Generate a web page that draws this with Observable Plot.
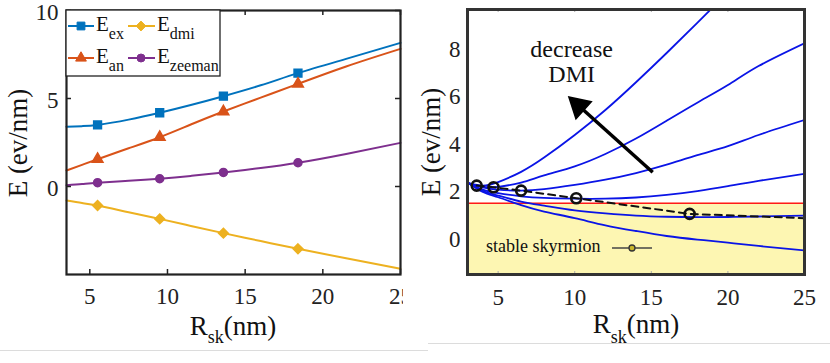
<!DOCTYPE html>
<html>
<head>
<meta charset="utf-8">
<script src="https://cdn.jsdelivr.net/npm/d3@7"></script>
<script src="https://cdn.jsdelivr.net/npm/@observablehq/plot@0.6"></script>
<style>
  html, body { margin: 0; padding: 0; background: white; }
  #wrap { position: relative; width: 830px; height: 363px; overflow: hidden; background: white; }
  #left { position: absolute; left: 0; top: 0; }
  #right { position: absolute; left: 415px; top: 0; }
  .hl { position: absolute; height: 1px; background: #dcdcdc; }
  svg text { font-family: "Liberation Serif", "Noto Serif", "DejaVu Serif", Tinos, "Nimbus Roman", "Nimbus Roman No9 L", FreeSerif, "Times New Roman", Times, serif !important; }
</style>
</head>
<body>
<div id="wrap">
  <div id="left"></div>
  <div id="right"></div>
  <div class="hl" style="left:0;top:350px;width:428px"></div>
  <div class="hl" style="left:428px;top:343px;width:402px"></div>
</div>
<script>
// ---------- Left panel data ----------
const rsk = [3.5, 4.5, 5.5, 7.5, 9.5, 11.5, 13.6, 16, 18.4, 21.5, 25];
const eEx = [3.4, 3.43, 3.5, 3.8, 4.19, 4.63, 5.13, 5.75, 6.44, 7.25, 8.16];
const eAn = [0.91, 1.23, 1.55, 2.17, 2.8, 3.52, 4.26, 5.05, 5.83, 6.82, 7.82];
const eZeeman = [0.07, 0.14, 0.22, 0.32, 0.44, 0.6, 0.8, 1.05, 1.35, 1.85, 2.48];
const eDmi = [-0.8, -0.94, -1.08, -1.46, -1.84, -2.24, -2.65, -3.1, -3.54, -4.08, -4.68];
const markerR = [5.5, 9.5, 13.6, 18.4];
const leftXTicks = [5, 10, 15, 20, 25];
const leftYTicks = [0, 5, 10];

// ---------- Right panel data ----------
const gridR = [3.1, 4, 5, 6.5, 8, 10, 12, 14, 16, 18, 20, 22, 25];
const dmiCurve1 = [2.36, 2.27, 2.42, 2.85, 3.45, 4.4, 5.45, 6.62, 7.85, 9.12, 10.4, NaN, NaN];
const dmiCurve2 = [2.36, 2.22, 2.22, 2.4, 2.7, 3.08, 3.6, 4.25, 5.0, 5.76, 6.5, 7.3, 8.26];
const dmiCurve3 = [2.36, 2.2, 2.1, 2.06, 2.12, 2.3, 2.52, 2.8, 3.15, 3.55, 3.93, 4.4, 5.03];
const dmiCurve4 = [2.36, 2.1, 1.95, 1.82, 1.75, 1.72, 1.72, 1.77, 1.88, 2.04, 2.25, 2.47, 2.77];
const dmiCurve5 = [2.36, 2.05, 1.85, 1.6, 1.43, 1.23, 1.1, 1.01, 0.96, 0.94, 0.95, 0.97, 1.01];
const dmiCurve6 = [2.36, 2.0, 1.78, 1.45, 1.18, 0.9, 0.6, 0.36, 0.15, 0.0, -0.13, -0.27, -0.46];
const minR = [3.6, 4.7, 6.5, 10.1, 17.5];
const minE = [2.27, 2.2, 2.06, 1.74, 1.08];
const trendR = [3.6, 4.7, 6.5, 10.1, 17.5, 25];
const trendE = [2.27, 2.2, 2.06, 1.74, 1.08, 0.9];
const stableLevel = 1.53;
const arrowR = [15.09, 10.26];
const arrowE = [2.83, 5.63];
const noteLines = ["decrease", "DMI"];
const noteR = [9.8, 9.8];
const noteE = [8.0, 6.95];
const rightXTicks = [5, 10, 15, 20, 25];
const rightYTicks = [0, 2, 4, 6, 8];

const FONT = "Liberation Serif, Noto Serif, DejaVu Serif, Tinos, Times New Roman, serif";
const C = {ex: "#0072BD", an: "#D95319", dmi: "#EDB120", zee: "#7E2F8E"};

// ---------- Left panel ----------
const series = [
  {key: "ex", vals: eEx, color: C.ex, symbol: "square", r: 4.4},
  {key: "dmi", vals: eDmi, color: C.dmi, symbol: "diamond2", r: 4.4},
  {key: "an", vals: eAn, color: C.an, symbol: "triangle", r: 4.0},
  {key: "zeeman", vals: eZeeman, color: C.zee, symbol: "circle", r: 4.0}
];
const rowsL = series.flatMap(s => rsk.map((x, i) => ({x, y: s.vals[i], key: s.key})));

const LW = 403, LH = 363, LML = 66, LMR = 3, LMT = 10, LMB = 89;
const LFW = 400 - LML, LFH = LH - LMT - LMB;

const leftMarks = [
  ...series.map(s => Plot.line(rowsL.filter(d => d.key === s.key), {x: "x", y: "y", stroke: s.color, strokeWidth: 2, curve: "natural"})),
  ...series.map(s => Plot.dot(rowsL.filter(d => d.key === s.key && markerR.includes(d.x)), {x: "x", y: "y", fill: s.color, stroke: s.color, symbol: s.symbol, r: s.r})),
  Plot.ruleX(leftXTicks, {x: d => d, insetTop: LFH - 5, stroke: "#222", strokeWidth: 1.5}),
  Plot.ruleX(leftXTicks, {x: d => d, insetBottom: LFH - 5, stroke: "#222", strokeWidth: 1.5}),
  Plot.ruleY(leftYTicks, {y: d => d, insetRight: LFW - 5, stroke: "#222", strokeWidth: 1.5}),
  Plot.ruleY(leftYTicks, {y: d => d, insetLeft: LFW - 5, stroke: "#222", strokeWidth: 1.5}),
  Plot.axisX({ticks: leftXTicks, tickSize: 0, tickPadding: 13, fontSize: 23, label: null, fill: "#222"}),
  Plot.axisY({ticks: leftYTicks, tickSize: 0, tickPadding: 8, fontSize: 23, label: null, fill: "#222", dy: 2}),
  Plot.frame({stroke: "#222", strokeWidth: 2.2})
];

const left = Plot.plot({
  width: LW, height: LH,
  marginLeft: LML, marginRight: LMR, marginTop: LMT, marginBottom: LMB,
  x: {domain: [3.5, 25]},
  y: {domain: [-5, 10]},
  style: {fontFamily: FONT, background: "white", overflow: "hidden"},
  marks: leftMarks
});
document.getElementById("left").appendChild(left);

// Legend & labels for the left panel
{
  const svg = d3.select(left);
  const g = svg.append("g").attr("font-family", FONT).attr("fill", "#111");
  g.append("rect").attr("x", 66).attr("y", 10).attr("width", 154).attr("height", 66)
    .attr("fill", "white").attr("stroke", "#222").attr("stroke-width", 1.3);
  const symMap = {square: d3.symbolSquare, diamond2: d3.symbolDiamond2, triangle: d3.symbolTriangle, circle: d3.symbolCircle};
  const pos = [
    {lx1: 68, lx2: 94, mx: 81, y: 26, tx: 96},
    {lx1: 128, lx2: 155, mx: 141, y: 26, tx: 157},
    {lx1: 68, lx2: 94, mx: 81, y: 58, tx: 96},
    {lx1: 128, lx2: 155, mx: 141, y: 58, tx: 157}
  ];
  series.forEach((s, i) => {
    const p = pos[i];
    g.append("line").attr("x1", p.lx1).attr("x2", p.lx2).attr("y1", p.y).attr("y2", p.y)
      .attr("stroke", s.color).attr("stroke-width", 2);
    g.append("path").attr("d", d3.symbol(symMap[s.symbol], Math.PI * s.r * s.r)())
      .attr("transform", `translate(${p.mx},${p.y})`).attr("fill", s.color).attr("stroke", s.color);
    const t = g.append("text").attr("x", p.tx).attr("y", p.y + 5).attr("text-anchor", "start")
      .attr("font-size", 21).text("E");
    t.append("tspan").attr("font-size", 16).attr("dy", 8).text(s.key);
  });
  const xl = g.append("text").attr("x", 233).attr("y", 335).attr("text-anchor", "middle").attr("font-size", 27);
  xl.append("tspan").text("R");
  xl.append("tspan").attr("font-size", 18).attr("dy", 8).text("sk");
  xl.append("tspan").attr("dy", -8).text("(nm)");
  g.append("text").attr("transform", "translate(27,143) rotate(-90)").attr("text-anchor", "middle")
    .attr("font-size", 27).text("E (ev/nm)");
}

// ---------- Right panel ----------
const curves = [dmiCurve1, dmiCurve2, dmiCurve3, dmiCurve4, dmiCurve5, dmiCurve6];
const rowsR = curves.flatMap((c, k) => gridR.map((x, i) => ({x, y: c[i], k})));
const mins = minR.map((x, i) => ({x, y: minE[i]}));
const trend = trendR.map((x, i) => ({x, y: trendE[i]}));
const RW = 415, RH = 363, RML = 52, RMR = 26, RMT = 9, RMB = 89;
const RFW = RW - RML - RMR, RFH = RH - RMT - RMB;
const rxDom = [3, 25], ryDom = [-1.47, 9.68];

const right = Plot.plot({
  width: RW, height: RH,
  marginLeft: RML, marginRight: RMR, marginTop: RMT, marginBottom: RMB,
  x: {domain: rxDom},
  y: {domain: ryDom},
  style: {fontFamily: FONT, background: "white", overflow: "hidden"},
  marks: [
    Plot.rect([stableLevel], {x1: rxDom[0], x2: rxDom[1], y1: ryDom[0], y2: d => d, fill: "#fdf6b2"}),
    Plot.ruleY([stableLevel], {y: d => d, stroke: "#ff1a1a", strokeWidth: 1.6}),
    Plot.line(rowsR.filter(d => !isNaN(d.y)), {x: "x", y: "y", z: "k", stroke: "#0a14e6", strokeWidth: 1.8, curve: "natural", clip: true}),
    Plot.line(trend, {x: "x", y: "y", stroke: "#111", strokeWidth: 2, strokeDasharray: "7,5"}),
    Plot.dot(mins, {x: "x", y: "y", r: 5, stroke: "#111", strokeWidth: 2.6, fill: "none"}),
    Plot.link([0], {x1: () => arrowR[0], y1: () => arrowE[0], x2: () => arrowR[1], y2: () => arrowE[1], stroke: "#000", strokeWidth: 3.5}),
    Plot.dot([1], {x: i => arrowR[i], y: i => arrowE[i], symbol: "triangle", r: 8.5, rotate: -48, fill: "#000", stroke: "#000"}),
    Plot.text(noteLines, {x: (d, i) => noteR[i], y: (d, i) => noteE[i], text: d => d, fontSize: 24, fill: "#111"}),
    Plot.ruleX(rightXTicks, {x: d => d, insetTop: RFH - 3, stroke: "#aaa"}),
    Plot.ruleX(rightXTicks, {x: d => d, insetBottom: RFH - 3, stroke: "#aaa"}),
    Plot.axisX({ticks: rightXTicks, tickSize: 0, tickPadding: 14, fontSize: 23, label: null, fill: "#222"}),
    Plot.axisY({ticks: rightYTicks, tickSize: 0, tickPadding: 7, fontSize: 23, label: null, fill: "#222"}),
    Plot.frame({stroke: "#333", strokeWidth: 3})
  ]
});
document.getElementById("right").appendChild(right);

{
  const svg = d3.select(right);
  const g = svg.append("g").attr("font-family", FONT).attr("fill", "#111");
  g.append("text").attr("x", 71).attr("y", 252).attr("text-anchor", "start").attr("font-size", 18).text("stable skyrmion");
  g.append("line").attr("x1", 197).attr("x2", 237).attr("y1", 248).attr("y2", 248)
    .attr("stroke", "#444").attr("stroke-width", 1.5);
  g.append("circle").attr("cx", 217).attr("cy", 248).attr("r", 3)
    .attr("fill", "#c9b62a").attr("stroke", "#333").attr("stroke-width", 1.3);
  const xl = g.append("text").attr("x", 221).attr("y", 333).attr("text-anchor", "middle").attr("font-size", 27);
  xl.append("tspan").text("R");
  xl.append("tspan").attr("font-size", 18).attr("dy", 10).text("sk");
  xl.append("tspan").attr("dy", -10).text("(nm)");
  g.append("text").attr("transform", "translate(25,142) rotate(-90)").attr("text-anchor", "middle")
    .attr("font-size", 27).text("E (ev/nm)");
}
</script>
</body>
</html>
